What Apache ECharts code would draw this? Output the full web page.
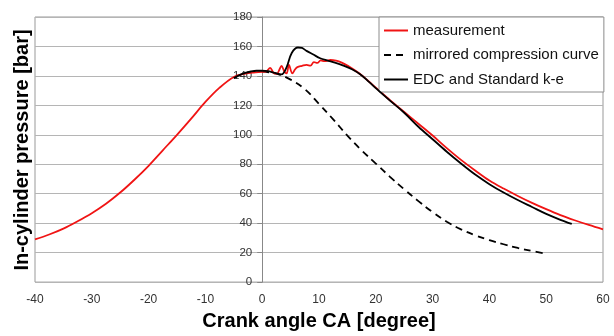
<!DOCTYPE html>
<html>
<head>
<meta charset="utf-8">
<script src="https://cdn.jsdelivr.net/npm/echarts@6/dist/echarts.min.js"></script>
<style>
  html, body { margin: 0; padding: 0; background: #fff; }
  #chart { width: 614px; height: 336px; }
</style>
</head>
<body>
<div id="chart"></div>
<script>
// crank angle ticks and pressure ticks
const xTicks = [-40, -30, -20, -10, 0, 10, 20, 30, 40, 50, 60];
const yTicks = [0, 20, 40, 60, 80, 100, 120, 140, 160, 180];

// measurement (red)
const measCA = [-40, -37.5, -35, -32.5, -30, -27.5, -25, -22.5, -20, -17.5, -15, -12.5, -10, -7.5,
  -5, -3, -1.5, 0, 0.7, 1.4, 2, 2.6, 3, 3.4, 3.9, 4.3, 4.7, 5.3, 5.8, 6.2, 7, 7.8, 8.5, 9.1, 9.7,
  10.3, 11, 12, 13, 14, 15, 17.5, 20, 22.5, 25, 27.5, 30, 32.5, 35, 37.5, 40, 42.5, 45, 47.5, 50, 52.5,
  55, 57.5, 60];
const measP = [29, 32.3, 36.3, 41.3, 46.8, 53.2, 60.8, 69.5, 79, 89.5, 100, 111, 122.3, 132,
  139.3, 141.5, 142.3, 142.7, 143, 145.5, 142, 141.5, 144, 146.8, 143, 141.7, 147.5, 141.7, 144.5, 146, 146.8, 147.5, 147, 149.4, 148.8,
  150.5, 150, 150.8, 150.3, 149, 147, 140.5, 132, 123.5, 115.5, 107.5, 99.5, 91, 83, 75.8, 69, 63.5, 58.5, 53.8, 49.5, 45.5,
  42, 38.8, 35.8];

// mirrored compression curve (dashed)
const mirrCA = [0, 2.5, 5, 7.5, 10, 12.5, 15, 17.5, 20, 22.5, 25, 27.5, 30, 32.5, 35, 37.5, 40, 42.5, 45, 47.5, 50];
const mirrP = [143, 141.5, 137.5, 131, 121, 110.5, 99.5, 89.5, 80.5, 71.5, 63, 55, 47.5, 41, 35.8, 31.8, 28.5, 25.7, 23.2, 21.1, 19.3];

// EDC and Standard k-e (black)
const edcCA = [-5, -4, -3, -2, -1, 0, 1, 2, 3.4, 4.3, 5.2, 6.3, 7, 7.8, 9, 10.2, 11.4, 12.8, 14.3, 15.8, 17.3,
  18.8, 20.2, 22.5, 25, 27.5, 30, 32.5, 35, 37.5, 40, 42.5, 45, 47.5, 50, 52.5, 54.5];
const edcP = [138.5, 140.5, 142, 143, 143.5, 143.5, 143.2, 142.3, 141, 146, 155.6, 159.3, 159, 157, 154.5, 152, 150.5, 149, 147, 144.5, 141,
  136, 131, 123.2, 115, 105.5, 97, 88.5, 80.5, 73, 66.5, 60.8, 55.7, 51, 46.3, 42.3, 39.5];

const pairs = (xs, ys) => xs.map((x, i) => [x, ys[i]]);

const chart = echarts.init(document.getElementById('chart'));
const font = 'Liberation Sans, Arial, sans-serif';

// grid geometry, the y axis sits at CA = 0
const gridLeft = 35, gridRight = 11;
const plotW = 614 - gridLeft - gridRight;
const yAxisShift = -plotW * (0 - xTicks[0]) / (xTicks[xTicks.length - 1] - xTicks[0]);

chart.setOption({
  animation: false,
  grid: {
    left: gridLeft, right: gridRight, top: 17, bottom: 46,
    show: true, borderColor: '#999', borderWidth: 1
  },
  legend: {
    left: 379, top: 17,
    orient: 'vertical',
    backgroundColor: '#fff',
    borderColor: '#8c8c8c', borderWidth: 1,
    padding: [6, 5, 5, 4],
    itemWidth: 24, itemHeight: 14, itemGap: 9.5,
    itemStyle: { opacity: 0 },
    textStyle: { fontFamily: font, fontSize: 15, color: '#111', lineHeight: 15 },
    data: ['measurement', 'mirrored compression curve', 'EDC and Standard k-e']
  },
  xAxis: {
    type: 'value', min: -40, max: 60, interval: 10,
    axisLine: { show: false },
    axisTick: { show: false },
    splitLine: { show: false },
    axisLabel: { margin: 12, fontFamily: font, fontSize: 12, color: '#333' },
    name: 'Crank angle CA [degree]',
    nameLocation: 'middle', nameGap: 24,
    nameTextStyle: { fontFamily: font, fontSize: 20, fontWeight: 'bold', color: '#000' }
  },
  yAxis: {
    type: 'value', min: 0, max: 180, interval: 20,
    position: 'left', offset: yAxisShift,
    axisLine: { show: true, onZero: false, lineStyle: { color: '#888', width: 1 } },
    axisTick: { show: true, length: 5, lineStyle: { color: '#888' } },
    splitLine: { show: true, lineStyle: { color: '#b5b5b5', width: 1 } },
    axisLabel: { margin: 10, fontFamily: font, fontSize: 11.5, color: '#333' }
  },
  graphic: [{
    type: 'text', x: 22, y: 150, rotation: Math.PI / 2,
    style: {
      text: 'In-cylinder pressure [bar]',
      font: 'bold 20px ' + font,
      fill: '#000', align: 'center', verticalAlign: 'middle'
    }
  }],
  series: [
    {
      name: 'measurement', type: 'line', data: pairs(measCA, measP),
      symbol: 'none', smooth: 0.35, z: 3,
      lineStyle: { color: '#f01414', width: 1.8 }, itemStyle: { color: '#f01414' }
    },
    {
      name: 'mirrored compression curve', type: 'line', data: pairs(mirrCA, mirrP),
      symbol: 'none', smooth: 0.4, z: 2,
      lineStyle: { color: '#000', width: 1.8, type: [7, 5] }, itemStyle: { color: '#000' }
    },
    {
      name: 'EDC and Standard k-e', type: 'line', data: pairs(edcCA, edcP),
      symbol: 'none', smooth: 0.35, z: 4,
      lineStyle: { color: '#000', width: 1.8 }, itemStyle: { color: '#000' }
    }
  ]
});
</script>
</body>
</html>
